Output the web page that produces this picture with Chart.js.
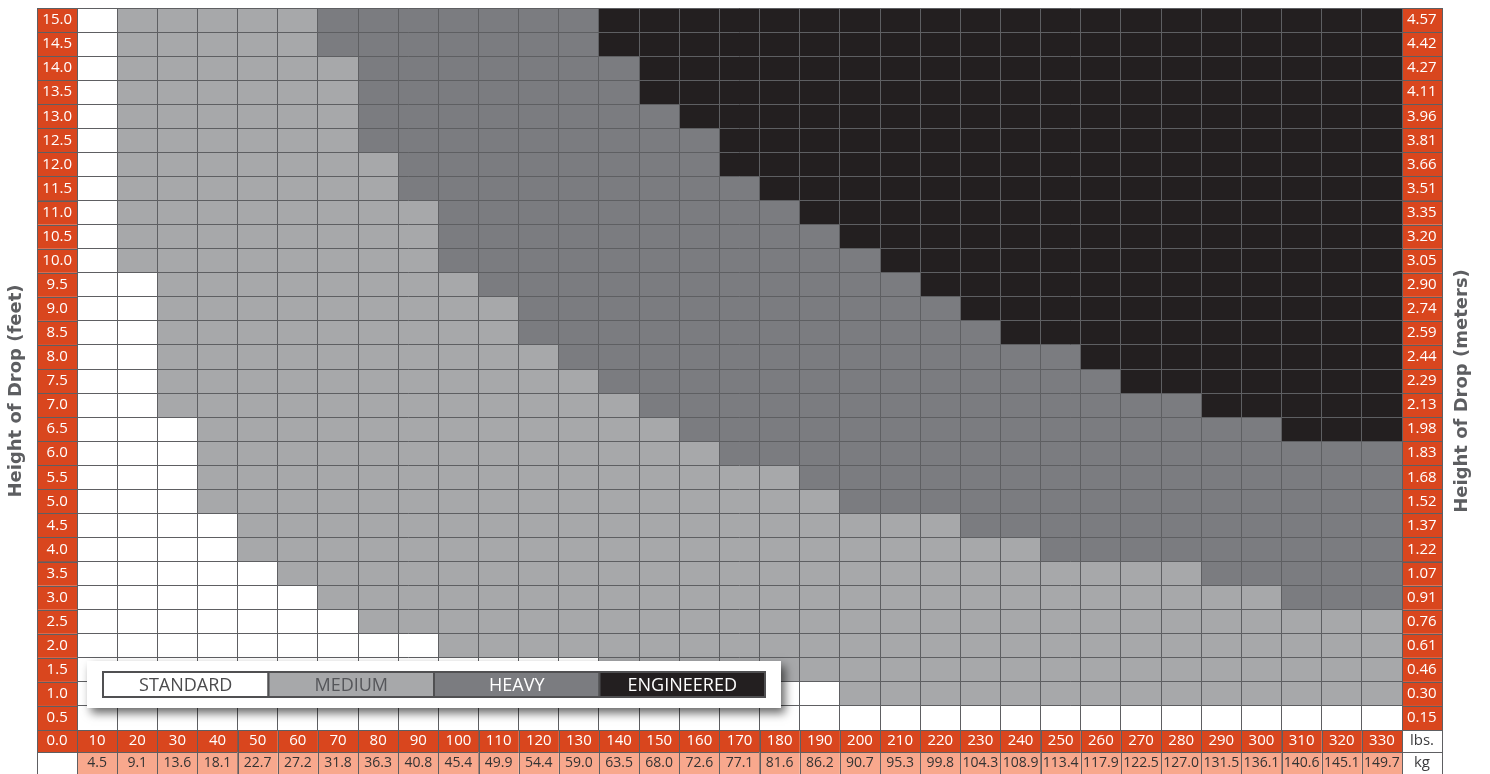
<!DOCTYPE html>
<html>
<head>
<meta charset="utf-8">
<title>Height of Drop</title>
<script src="https://cdn.jsdelivr.net/npm/chart.js@4.4.1/dist/chart.umd.min.js"></script>
<style>
  html, body { margin: 0; padding: 0; background: #fff; }
  #wrap { width: 1490px; height: 774px; position: relative; }
</style>
</head>
<body>
<div id="wrap"><canvas id="dropChart"></canvas></div>
<script>
// weight columns
const lbs = [10, 20, 30, 40, 50, 60, 70, 80, 90, 100, 110, 120, 130, 140, 150, 160, 170, 180, 190, 200, 210, 220, 230, 240, 250, 260, 270, 280, 290, 300, 310, 320, 330];
const kg = ['4.5', '9.1', '13.6', '18.1', '22.7', '27.2', '31.8', '36.3', '40.8', '45.4', '49.9', '54.4', '59.0', '63.5', '68.0', '72.6', '77.1', '81.6', '86.2', '90.7', '95.3', '99.8', '104.3', '108.9', '113.4', '117.9', '122.5', '127.0', '131.5', '136.1', '140.6', '145.1', '149.7'];

// height rows (bottom to top)
const feet = ['0.0', '0.5', '1.0', '1.5', '2.0', '2.5', '3.0', '3.5', '4.0', '4.5', '5.0', '5.5', '6.0', '6.5', '7.0', '7.5', '8.0', '8.5', '9.0', '9.5', '10.0', '10.5', '11.0', '11.5', '12.0', '12.5', '13.0', '13.5', '14.0', '14.5', '15.0'];
const meters = ['0.15', '0.30', '0.46', '0.61', '0.76', '0.91', '1.07', '1.22', '1.37', '1.52', '1.68', '1.83', '1.98', '2.13', '2.29', '2.44', '2.59', '2.74', '2.90', '3.05', '3.20', '3.35', '3.51', '3.66', '3.81', '3.96', '4.11', '4.27', '4.42', '4.57'];

const categories = ['STANDARD', 'MEDIUM', 'HEAVY', 'ENGINEERED'];

// highest drop (ft) of each category per weight column
const standardTop = [15, 9.5, 6.5, 4.5, 3.5, 3.0, 2.5, 2.0, 2.0, 1.5, 1.5, 1.5, 1.5, 1.0, 1.0, 1.0, 1.0, 1.0, 1.0, 0.5, 0.5, 0.5, 0.5, 0.5, 0.5, 0.5, 0.5, 0.5, 0.5, 0.5, 0.5, 0.5, 0.5];
const mediumTop = [15, 15, 15, 15, 15, 15, 14.0, 12.0, 11.0, 9.5, 9.0, 8.0, 7.5, 7.0, 6.5, 6.0, 5.5, 5.5, 5.0, 4.5, 4.5, 4.5, 4.0, 4.0, 3.5, 3.5, 3.5, 3.5, 3.0, 3.0, 2.5, 2.5, 2.5];
const heavyTop = [15, 15, 15, 15, 15, 15, 15, 15, 15, 15, 15, 15, 15, 14.0, 13.0, 12.5, 11.5, 11.0, 10.5, 10.0, 9.5, 9.0, 8.5, 8.0, 8.0, 7.5, 7.0, 7.0, 6.5, 6.5, 6.0, 6.0, 6.0];
const maxHeight = 15;

const colors = ['#ffffff', '#a7a8aa', '#7b7c80', '#231f20'];
const legendText = ['#4b4b4d', '#55565a', '#ffffff', '#ffffff'];
const gridColor = '#5e5f62';
const orange = '#d9461e';
const salmon = '#f8a88d';
const labelFont = '"Open Sans", sans-serif';

Chart.defaults.font.family = labelFont;

// floating bars: one segment per category
const segments = [
    lbs.map((_, i) => [0, standardTop[i]]),
    lbs.map((_, i) => [standardTop[i], mediumTop[i]]),
    lbs.map((_, i) => [mediumTop[i], heavyTop[i]]),
    lbs.map((_, i) => [heavyTop[i], maxHeight])
];

// no extra room for the first / last label
const fitWidth = w => s => { s.width = w; s.paddingTop = 0; s.paddingBottom = 0; };
const fitHeight = h => s => { s.height = h; s.paddingLeft = 0; s.paddingRight = 0; };

// orange label cells, corner cells and axis titles
const frame = {
    id: 'frame',
    beforeDraw(chart) {
        const { ctx, chartArea: a, scales } = chart;
        const fy = scales.yFeet, my = scales.yMeters, lx = scales.x, kx = scales.xKg;
        const rowH = (a.bottom - a.top) / meters.length;
        const colW = (a.right - a.left) / lbs.length;
        ctx.save();
        ctx.lineWidth = 1;
        ctx.strokeStyle = gridColor;
        const cell = (x, y, w, h, fill) => {
            ctx.fillStyle = fill;
            ctx.fillRect(x, y, w, h);
            ctx.strokeRect(Math.round(x) + 0.5, Math.round(y) + 0.5, Math.round(w), Math.round(h));
        };
        meters.forEach((_, i) => {
            const y = fy.getPixelForTick(i) - rowH / 2;
            cell(fy.left, y, fy.width, rowH, orange);
            cell(my.left, y, my.width, rowH, orange);
        });
        lbs.forEach((_, i) => {
            const x = lx.getPixelForTick(i) - colW / 2;
            cell(x, lx.top, colW, lx.height, orange);
            cell(x, kx.top, colW, kx.height, salmon);
        });
        cell(fy.left, lx.top, fy.width, lx.height, orange);
        cell(fy.left, kx.top, fy.width, kx.height, '#ffffff');
        cell(my.left, lx.top, my.width, lx.height, '#ffffff');
        cell(my.left, kx.top, my.width, kx.height, '#ffffff');

        ctx.textAlign = 'center';
        ctx.textBaseline = 'middle';
        ctx.font = '15px ' + labelFont;
        ctx.fillStyle = '#ffffff';
        ctx.fillText(feet[0], fy.left + fy.width / 2, lx.top + lx.height / 2);
        ctx.fillStyle = '#3c3c3e';
        ctx.fillText('lbs.', my.left + my.width / 2, lx.top + lx.height / 2);
        ctx.fillText('kg', my.left + my.width / 2, kx.top + kx.height / 2);

        // rotated titles
        ctx.font = 'bold 18px "DejaVu Sans", sans-serif';
        ctx.fillStyle = '#5d5e61';
        const title = (text, x) => {
            ctx.save();
            ctx.translate(x, 391);
            ctx.rotate(-Math.PI / 2);
            ctx.fillText(text, 0, 0);
            ctx.restore();
        };
        title('Height of Drop (feet)', 16);
        title('Height of Drop (meters)', 1462);
        ctx.restore();
    }
};

// legend strip in a shadowed white box
const legendBox = {
    id: 'legendBox',
    afterDraw(chart) {
        const { ctx, chartArea: a } = chart;
        const box = { x: a.left + 10, y: a.bottom - 69, w: 694, h: 47 };
        ctx.save();
        ctx.shadowColor = 'rgba(0, 0, 0, 0.6)';
        ctx.shadowBlur = 9;
        ctx.shadowOffsetX = 4;
        ctx.shadowOffsetY = 5;
        ctx.fillStyle = '#ffffff';
        ctx.fillRect(box.x, box.y, box.w, box.h);
        ctx.restore();

        ctx.save();
        const segW = 165.5, segH = 25, sx = box.x + 16, sy = box.y + 11;
        ctx.font = '18px ' + labelFont;
        ctx.textAlign = 'center';
        ctx.textBaseline = 'middle';
        ctx.lineWidth = 2;
        ctx.strokeStyle = '#505052';
        categories.forEach((name, i) => {
            const x = sx + i * segW;
            ctx.fillStyle = colors[i];
            ctx.fillRect(x, sy, segW, segH);
            ctx.strokeRect(x, sy, segW, segH);
            ctx.fillStyle = legendText[i];
            ctx.fillText(name, x + segW / 2, sy + segH / 2 + 1);
        });
        ctx.restore();
    }
};

const config = {
    type: 'bar',
    data: {
        labels: lbs.map(String),
        datasets: categories.map((name, i) => ({
            label: name,
            data: segments[i],
            backgroundColor: colors[i],
            borderWidth: 0,
            inflateAmount: 0,
            barPercentage: 1,
            categoryPercentage: 1
        }))
    },
    options: {
        responsive: true,
        maintainAspectRatio: false,
        animation: false,
        events: [],
        layout: { padding: { left: 37, right: 48, top: 8, bottom: 0 } },
        plugins: {
            legend: { display: false },
            tooltip: { enabled: false }
        },
        scales: {
            x: {
                type: 'category',
                position: 'bottom',
                weight: 0,
                stacked: true,
                grid: { color: gridColor, z: 1, drawTicks: false, offset: true },
                border: { display: false },
                ticks: { color: '#ffffff', font: { size: 15 }, padding: 2, autoSkip: false, maxRotation: 0 },
                afterFit: fitHeight(22)
            },
            xKg: {
                type: 'category',
                position: 'bottom',
                weight: 1,
                labels: kg,
                offset: true,
                grid: { display: false, drawTicks: false },
                border: { display: false },
                ticks: { color: '#333333', font: { size: 14 }, padding: 3, autoSkip: false, maxRotation: 0 },
                afterFit: fitHeight(22)
            },
            y: {
                type: 'linear',
                position: 'left',
                weight: 0,
                min: 0,
                max: maxHeight,
                ticks: { display: false, stepSize: 0.5, maxTicksLimit: 40 },
                grid: { color: gridColor, z: 1, drawTicks: false },
                border: { display: false },
                afterFit: fitWidth(0)
            },
            yFeet: {
                type: 'category',
                position: 'left',
                weight: 1,
                labels: feet.slice(1).reverse(),
                offset: true,
                grid: { display: false, drawTicks: false },
                border: { display: false },
                ticks: { color: '#ffffff', font: { size: 15 }, crossAlign: 'center', padding: 5, autoSkip: false },
                afterFit: fitWidth(40)
            },
            yMeters: {
                type: 'category',
                position: 'right',
                labels: meters.slice().reverse(),
                offset: true,
                grid: { display: false, drawTicks: false },
                border: { display: false },
                ticks: { color: '#ffffff', font: { size: 15 }, crossAlign: 'center', padding: 5, autoSkip: false },
                afterFit: fitWidth(40)
            }
        }
    },
    plugins: [frame, legendBox]
};

const dropChart = new Chart(document.getElementById('dropChart'), config);
</script>
</body>
</html>
